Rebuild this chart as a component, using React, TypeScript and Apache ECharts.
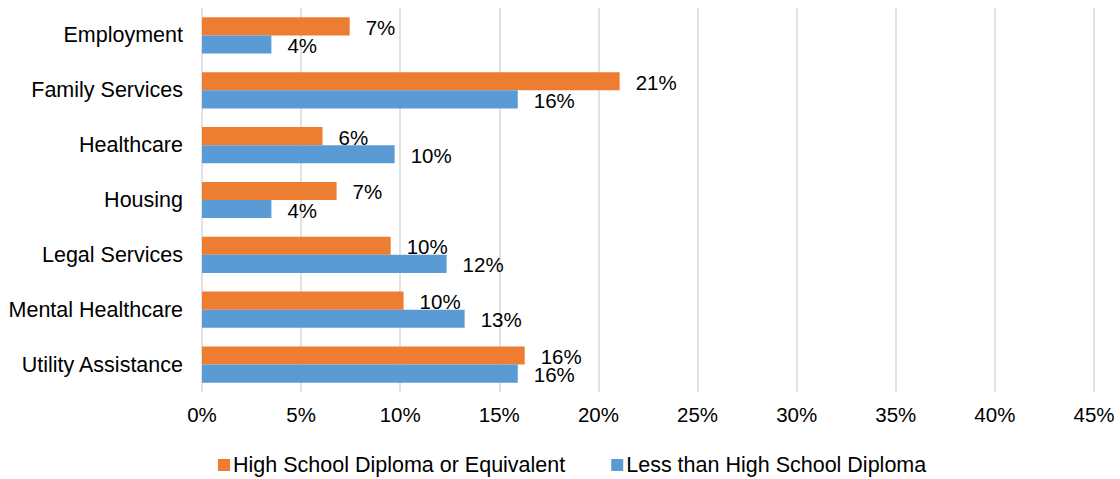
import React, { useEffect, useRef } from "react";
import * as echarts from "echarts";

const categories = [
  "Employment",
  "Family Services",
  "Healthcare",
  "Housing",
  "Legal Services",
  "Mental Healthcare",
  "Utility Assistance",
];
const highSchool = [7.45, 21.07, 6.08, 6.79, 9.52, 10.17, 16.28];
const lessThanHS = [3.5, 15.93, 9.72, 3.5, 12.34, 13.25, 15.93];
const seriesNames = ["High School Diploma or Equivalent", "Less than High School Diploma"];
const colors = ["#ED7D31", "#5B9BD5"];

const FONT = "Liberation Sans, Arial, sans-serif";

export default function App() {
  const ref = useRef<HTMLDivElement>(null);
  useEffect(() => {
    const chart = echarts.init(ref.current!, null, { renderer: "svg" });
    const mkSeries = (name: string, data: number[], color: string) => ({
      name,
      type: "bar",
      data,
      itemStyle: { color },
      barGap: "0%",
      barCategoryGap: "34%",
      label: {
        show: true,
        position: "right",
        distance: 16,
        offset: [0, 1],
        color: "#000",
        fontSize: 20.5,
        fontFamily: FONT,
        formatter: (p: any) => Math.round(p.value) + "%",
      },
    });
    chart.setOption({
      animation: false,
      textStyle: { fontFamily: FONT },
      grid: { left: 202, right: 26, top: 8, bottom: 87, containLabel: false },
      legend: {
        top: 454,
        left: 218,
        padding: 0,
        itemWidth: 12,
        itemHeight: 12,
        itemGap: 46,
        icon: "rect",
        textStyle: { fontSize: 21.5, color: "#000", fontFamily: FONT, padding: [0, 0, 0, -2] },
        data: seriesNames,
      },
      xAxis: {
        type: "value",
        min: 0,
        max: 45,
        interval: 5,
        axisLine: { show: false },
        axisTick: { show: false },
        axisLabel: {
          formatter: "{value}%",
          fontSize: 20.5,
          color: "#000",
          fontFamily: FONT,
          margin: 12,
        },
        splitLine: { lineStyle: { color: "#D9D9D9", width: 1.5 } },
      },
      yAxis: {
        type: "category",
        inverse: true,
        data: categories,
        axisLine: { show: false },
        axisTick: { show: false },
        axisLabel: { fontSize: 21.5, color: "#000", fontFamily: FONT, margin: 19 },
      },
      series: [
        mkSeries(seriesNames[0], highSchool, colors[0]),
        mkSeries(seriesNames[1], lessThanHS, colors[1]),
      ],
    });
    return () => chart.dispose();
  }, []);
  return (
    <div
      ref={ref}
      style={{ position: "fixed", left: 0, top: 0, width: 1120, height: 479, background: "#fff" }}
    />
  );
}
